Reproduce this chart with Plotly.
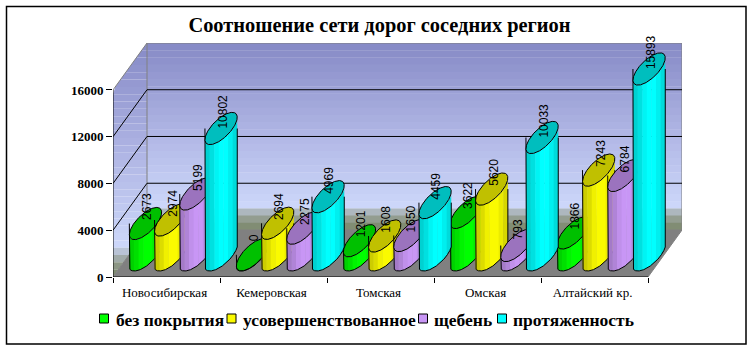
import numpy as np
import plotly.graph_objects as go

TITLE = "Соотношение сети дорог соседних регион"
regions = ["Новосибирская", "Кемеровская", "Томская", "Омская", "Алтайский кр."]
series_names = ["без покрытия", "усовершенствованное", "щебень", "протяженность"]
bez_pokrytia = [2673, 0, 1201, 3622, 1866]
usovershenstv = [2974, 2694, 1608, 5620, 7243]
sheben = [5199, 2275, 1650, 793, 6784]
protyazhennost = [10802, 4969, 4459, 10033, 15893]
series_values = [bez_pokrytia, usovershenstv, sheben, protyazhennost]
y_ticks = [0, 4000, 8000, 12000, 16000]

base_colors = [(0, 255, 0), (250, 250, 0), (200, 150, 245), (0, 255, 255)]
cap_colors = ["rgb(0,192,0)", "rgb(192,192,0)", "rgb(155,115,190)", "rgb(0,190,190)"]
strip_factor = [0.82, 0.88, 0.96, 1.0, 1.0, 0.94, 0.86]
legend_swatch_px = [99.5, 227, 418.5, 497.5]
legend_text_px = [114, 241, 432, 511]

W, H = 755, 352
X0, Y0 = 113.0, 277.0       # front-left floor corner (px)
CAT = 107.0                 # px per category
PX_PER_K = 11.69            # px per 1000 units
DX, DY = 34.0, 47.0         # depth of the box (px)
PLOT_R = X0 + 5 * CAT + DX
PLOT_T = 43.0

def X(px):
    return (np.asarray(px, float) - X0) / CAT

def Y(py):
    return (Y0 - np.asarray(py, float)) / PX_PER_K * 1000

def PX(px):
    return (px - X0) / (PLOT_R - X0)

def PY(py):
    return (Y0 - py) / (Y0 - PLOT_T)

def path(pts):
    return "M " + " L ".join(f"{X(a):.4f} {Y(b):.2f}" for a, b in pts) + " Z"

def lerp_stops(t, stops):
    c = [np.interp(t, [s[0] for s in stops], [s[1][i] for s in stops]) for i in range(3)]
    return f"rgb({int(c[0])},{int(c[1])},{int(c[2])})"

STOPS = [(0, (134, 138, 198)), (0.5, (178, 184, 230)), (0.78, (198, 208, 245)), (0.87, (205, 215, 250)),
         (0.905, (172, 182, 188)), (0.95, (142, 152, 135)), (1, (122, 135, 105))]

shapes = []
# back wall bands
N = 26
top, bot = PLOT_T, Y0 - DY
edges = np.linspace(top, bot, N + 1)
for i in range(N):
    shapes.append(dict(type="path", xref="x", yref="y", layer="below", line=dict(width=0),
                       fillcolor=lerp_stops((i + 0.5) / N, STOPS),
                       path=path([(X0 + DX, edges[i]), (PLOT_R, edges[i]), (PLOT_R, edges[i + 1] + 0.4), (X0 + DX, edges[i + 1] + 0.4)])))
# left wall bands
def wall_left(y):
    return X0 if y >= Y0 - 16000 * PX_PER_K / 1000 else X0 + (Y0 - 16000 * PX_PER_K / 1000 - y) * DX / DY

def wall_right(y):
    return X0 + DX if y <= bot else X0 + DX - (y - bot) * DX / DY

N2 = 32
edges2 = np.linspace(top, Y0, N2 + 1)
for i in range(N2):
    a, b = edges2[i], edges2[i + 1]
    shapes.append(dict(type="path", xref="x", yref="y", layer="below", line=dict(width=0),
                       fillcolor=lerp_stops((i + 0.5) / N2, STOPS),
                       path=path([(wall_left(a), a), (wall_right(a), a), (wall_right(b), b), (wall_left(b), b)])))
# floor
shapes.append(dict(type="path", xref="x", yref="y", layer="below", line=dict(color="rgb(128,128,128)", width=1),
                   fillcolor="rgb(128,128,128)",
                   path=path([(X0, Y0), (X0 + DX, bot), (PLOT_R, bot), (PLOT_R - DX, Y0)])))
# box edges
GRAY = dict(color="rgb(128,128,128)", width=1)
for p in ([(X0 + DX, top), (X0 + DX, bot)], [(X0 + DX, top), (PLOT_R, top)], [(PLOT_R, top), (PLOT_R, bot)],
          [(X0, Y0 - 16000 * PX_PER_K / 1000), (X0 + DX, top)]):
    shapes.append(dict(type="line", xref="x", yref="y", layer="below", line=GRAY,
                       x0=float(X(p[0][0])), y0=float(Y(p[0][1])), x1=float(X(p[1][0])), y1=float(Y(p[1][1]))))
# gridlines
dval = DY / PX_PER_K * 1000
dcat = DX / CAT
for v in y_ticks[1:-1]:
    shapes.append(dict(type="line", xref="x", yref="y", layer="below", line=dict(color="black", width=1),
                       x0=dcat, x1=5 + dcat, y0=v + dval, y1=v + dval))
    shapes.append(dict(type="line", xref="x", yref="y", layer="below", line=dict(color="black", width=1),
                       x0=0, x1=dcat, y0=v, y1=v + dval))
# axes lines
shapes.append(dict(type="line", xref="x", yref="y", layer="between", line=dict(color="black", width=1), x0=0, x1=0, y0=0, y1=16000))
shapes.append(dict(type="line", xref="x", yref="y", layer="between", line=dict(color="black", width=1), x0=0, x1=5, y0=0, y1=0))
# outer frame
shapes.append(dict(type="rect", xref="paper", yref="paper", layer="below", line=dict(color="black", width=1.5), fillcolor="rgba(0,0,0,0)",
                   x0=PX(6.5), x1=PX(746), y0=PY(344), y1=PY(6.5)))

# cylinder geometry (px)
A, B = 21.0, 9.0
LEFT_OFF = 16.0
STEP = 25.2
HALF = 16.5
BASE_VAL = 1900.0
tt = np.linspace(0, 2 * np.pi, 361)
ex = (A * np.cos(tt) + B * np.sin(tt)) * np.sqrt(0.5)
ey = (-A * np.cos(tt) + B * np.sin(tt)) * np.sqrt(0.5)   # px, downwards positive
grid = np.linspace(ex.min(), ex.max(), 121)
low = np.array([ey[np.abs(ex - g) < 0.6].max() for g in grid])
ux = 1 / CAT
uy = 1000 / PX_PER_K

fig = go.Figure()
n_strip = len(strip_factor)
sedges = np.linspace(grid[0], grid[-1], n_strip + 1)
annotations = []

def lowy(x):
    return np.interp(x, grid, low)

for s, vals in enumerate(series_values):
    strips = [[[], []] for _ in range(n_strip)]
    out_x, out_y, cap_x, cap_y = [], [], [], []
    for g, v in enumerate(vals):
        cx = g + (LEFT_OFF + STEP * s + HALF) * ux
        base = BASE_VAL + v
        for k in range(n_strip):
            xs = np.linspace(sedges[k], min(sedges[k + 1] + 0.4, grid[-1]), 6)
            yl = lowy(xs)
            px = np.concatenate([xs, xs[::-1], xs[:1]])
            vy = np.concatenate([base - yl * uy, BASE_VAL - yl[::-1] * uy, [base - yl[0] * uy]])
            strips[k][0] += list(cx + px * ux) + [None]
            strips[k][1] += list(vy) + [None]
        out_x += list(cx + np.concatenate([grid[:1], grid, grid[-1:]]) * ux) + [None]
        out_y += [base] + list(BASE_VAL - low * uy) + [base] + [None]
        cap_x += list(cx + ex * ux) + [None]
        cap_y += list(base - ey * uy) + [None]
        annotations.append(dict(x=cx + 1.5 * ux, y=base + 16.5 * uy, xref="x", yref="y", text=str(v), textangle=-90,
                                showarrow=False, xanchor="center", yanchor="middle",
                                font=dict(family="Liberation Sans", size=12, color="black")))
    for k in range(n_strip):
        f = strip_factor[k]
        col = "rgb({},{},{})".format(*[int(c * f) for c in base_colors[s]])
        fig.add_trace(go.Scatter(x=strips[k][0], y=strips[k][1], mode="lines", fill="toself", fillcolor=col,
                                 line=dict(width=0), hoverinfo="skip", showlegend=False))
    fig.add_trace(go.Scatter(x=out_x, y=out_y, mode="lines", line=dict(color="black", width=1),
                             hoverinfo="skip", showlegend=False))
    fig.add_trace(go.Scatter(x=cap_x, y=cap_y, mode="lines", fill="toself", fillcolor=cap_colors[s],
                             line=dict(color="black", width=1), hoverinfo="skip", showlegend=False))

# legend, placed by hand to keep the reference's tight spacing
for s, name in enumerate(series_names):
    shapes.append(dict(type="rect", xref="paper", yref="paper", layer="above", line=dict(color="black", width=1),
                       fillcolor="rgb({},{},{})".format(*base_colors[s]),
                       x0=PX(legend_swatch_px[s]), x1=PX(legend_swatch_px[s] + 9),
                       y0=PY(323), y1=PY(314)))
    annotations.append(dict(x=PX(legend_text_px[s]), y=PY(320), xref="paper", yref="paper", text=name, showarrow=False,
                            xanchor="left", yanchor="middle",
                            font=dict(family="Liberation Serif", size=17.5, color="black", weight="bold")))

fig.update_layout(
    width=W, height=H, autosize=False,
    margin=dict(l=X0, r=W - PLOT_R, t=PLOT_T, b=H - Y0, pad=0),
    paper_bgcolor="white", plot_bgcolor="white",
    title=dict(text=TITLE, x=PX(379.5), y=1 - 25 / H, xanchor="center", yanchor="middle", xref="paper",
               font=dict(family="Liberation Serif", size=20.4, color="black", weight="bold")),
    shapes=shapes, annotations=annotations,
    showlegend=False,
    xaxis=dict(range=[0, float(X(PLOT_R))], tickmode="array", tickvals=[i + 0.5 for i in range(5)], ticktext=regions,
               ticks="", showgrid=False, zeroline=False, showline=False, fixedrange=True, ticklabelstandoff=6, ticklabelshift=-2,
               tickfont=dict(family="Liberation Serif", size=13, color="black"),
               minor=dict(tickmode="array", tickvals=list(range(6)), ticks="outside", ticklen=5, tickcolor="black", tickwidth=1, showgrid=False)),
    yaxis=dict(range=[0, float(Y(PLOT_T))], tickmode="array", tickvals=y_ticks, ticktext=[str(v) for v in y_ticks],
               ticks="outside", ticklen=6, tickcolor="black",
               showgrid=False, zeroline=False, showline=False, fixedrange=True,
               tickfont=dict(family="Liberation Serif", size=13, color="black", weight="bold")),
)

fig.write_html("out.html", post_script="document.body.style.margin='0';", config=dict(displayModeBar=False))
